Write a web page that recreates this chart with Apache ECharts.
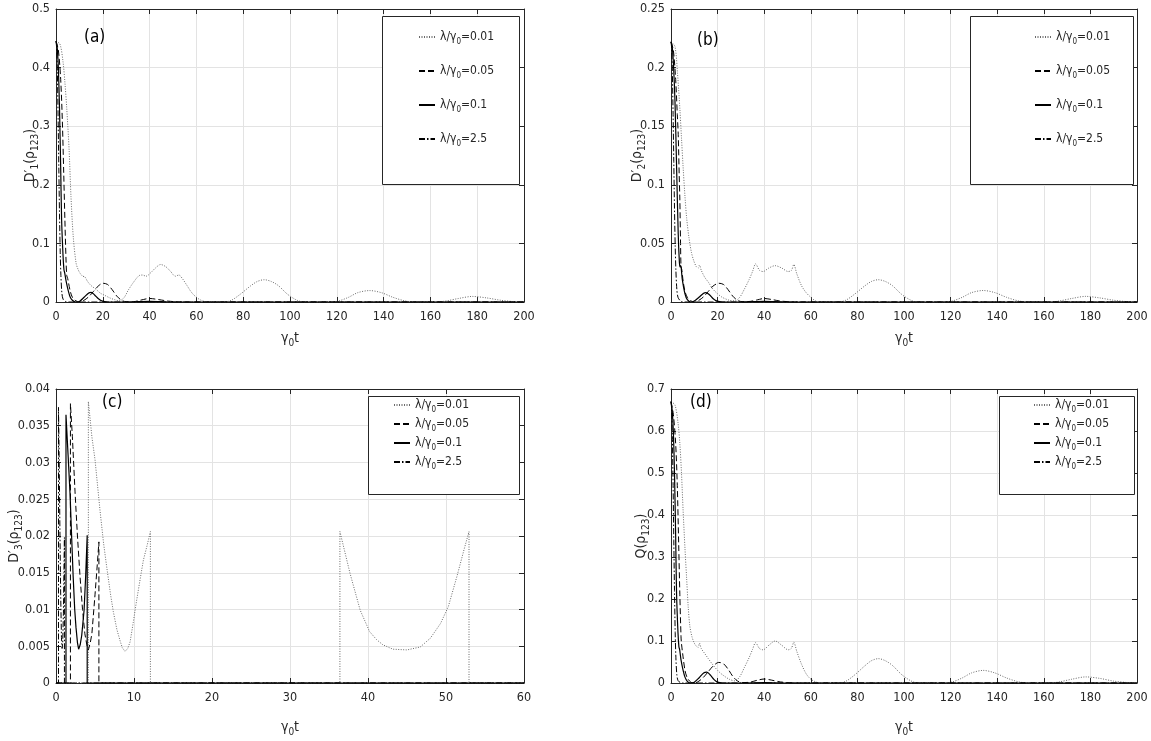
<!DOCTYPE html>
<html>
<head>
<meta charset="utf-8">
<script src="https://cdn.jsdelivr.net/npm/echarts@6/dist/echarts.min.js"></script>
<style>
html,body{margin:0;padding:0;background:#fff}
#main{width:1151px;height:741px}
</style>
</head>
<body>
<div id="main"></div>
<script>
// legend values lambda/gamma0
const lambdas = ['0.01', '0.05', '0.1', '2.5'];

// (a) D'1
const a001 = [[0,0.445],[1.7,0.44],[3,0.41],[3.8,0.375],[4.6,0.33],[5.6,0.26],[6.4,0.18],[7.4,0.11],[8.6,0.066],[9.5,0.055],[10.3,0.049],[11.4,0.044],[12.3,0.043],[13.5,0.035],[15,0.028],[17,0.022],[19,0.015],[21,0.011],[23,0.007],[25,0.004],[27,0.002],[29,0.007],[31,0.021],[33,0.033],[35.5,0.045],[37,0.046],[38.5,0.044],[40.5,0.05],[42.5,0.058],[44.7,0.064],[47,0.06],[49,0.052],[51,0.044],[52.5,0.046],[54,0.04],[56,0.028],[58,0.016],[60,0.008],[62,0.003],[64,0.0005],[66,0],[72,0],[75,0.003],[79,0.014],[83,0.027],[86,0.035],[89,0.038],[92,0.035],[95,0.028],[99,0.013],[103,0.003],[106,0],[118,0],[121,0.002],[125,0.008],[129,0.016],[134,0.0195],[139,0.016],[144,0.008],[149,0.002],[153,0],[163,0],[167,0.002],[172,0.006],[178,0.0095],[184,0.007],[190,0.003],[196,0.0005],[200,0]];
const a005 = [[0,0.445],[1,0.43],[2,0.38],[2.7,0.31],[3.3,0.22],[3.8,0.14],[4.3,0.07],[4.6,0.045],[5,0.04],[6,0.02],[7,0.008],[8.5,0.002],[10,0],[12,0.003],[14,0.009],[16,0.018],[18,0.027],[20,0.032],[22,0.03],[24,0.021],[26,0.01],[28,0.003],[30,0.0005],[33,0.0005],[36,0.003],[40,0.006],[44,0.004],[48,0.0015],[52,0.0003],[56,0],[200,0]];
const a01 = [[0,0.445],[0.5,0.435],[1,0.4],[1.5,0.33],[2,0.23],[2.4,0.14],[3,0.08],[3.4,0.055],[3.7,0.05],[4.3,0.036],[5.2,0.02],[6,0.009],[7,0.003],[8.5,0],[10,0.001],[12,0.008],[14,0.0155],[15,0.0165],[16.5,0.012],[18,0.006],[19.5,0.002],[22,0],[30,0],[35,0.0005],[40,0.001],[45,0.0005],[50,0],[200,0]];
const a25 = [[0,0.445],[0.3,0.432],[0.6,0.39],[0.9,0.315],[1.2,0.23],[1.5,0.15],[1.8,0.085],[2.1,0.045],[2.5,0.016],[3,0.005],[4,0.001],[5,0],[200,0]];

// (b) D'2
const b001 = [[0,0.222],[1.7,0.218],[2.8,0.195],[3.8,0.165],[4.5,0.14],[5.2,0.115],[6,0.09],[6.7,0.072],[7.7,0.055],[8.8,0.042],[9.8,0.035],[10.9,0.03],[11.7,0.029],[12.2,0.0315],[13,0.027],[14.5,0.021],[16,0.017],[18,0.011],[20,0.007],[22,0.004],[25,0.0015],[27.5,0.001],[29.5,0.004],[31.5,0.011],[33.5,0.019],[35,0.026],[36.3,0.0325],[38,0.027],[39.5,0.026],[42,0.029],[44.7,0.031],[47.5,0.029],[50.3,0.026],[51.7,0.027],[52.7,0.032],[54,0.024],[56,0.014],[58,0.008],[60,0.004],[62,0.001],[64,0],[72,0],[75,0.0015],[79,0.007],[83,0.0135],[86,0.0175],[89,0.019],[92,0.0175],[95,0.014],[99,0.0065],[103,0.0015],[106,0],[118,0],[121,0.001],[125,0.004],[129,0.008],[134,0.0098],[139,0.008],[144,0.004],[149,0.001],[153,0],[163,0],[167,0.001],[172,0.003],[178,0.0048],[184,0.0035],[190,0.0015],[196,0.0003],[200,0]];
const b005 = [[0,0.222],[1,0.215],[2,0.19],[2.7,0.16],[3.1,0.143],[3.5,0.11],[3.8,0.087],[4.1,0.05],[4.3,0.03],[4.6,0.028],[5.2,0.018],[6,0.009],[7,0.004],[8.5,0.001],[10,0],[12,0.0015],[14,0.0045],[16,0.009],[18,0.0135],[20.5,0.016],[22.5,0.015],[24.5,0.0105],[26.5,0.005],[28.5,0.0015],[30.5,0.0003],[34,0.0005],[37,0.0018],[40,0.003],[43,0.0022],[47,0.0008],[52,0.0001],[56,0],[200,0]];
const b01 = [[0,0.222],[0.5,0.218],[1,0.205],[1.7,0.172],[2.4,0.115],[3.1,0.058],[3.6,0.034],[3.9,0.03],[4.2,0.031],[4.8,0.02],[6,0.007],[7,0.002],[8.5,0],[10,0.0008],[12,0.004],[14,0.0075],[15,0.008],[16.5,0.0062],[18,0.003],[19.5,0.001],[22,0],[30,0],[40,0.0005],[50,0],[200,0]];
const b25 = [[0,0.222],[0.3,0.216],[0.6,0.195],[0.9,0.16],[1.2,0.12],[1.5,0.08],[1.8,0.048],[2.1,0.027],[2.5,0.011],[3,0.004],[4,0.001],[5,0],[200,0]];

// (c) D'3
const c001 = [[0,0],[4.15,0],[4.15,0.0383],[4.6,0.0335],[5,0.0304],[5.64,0.0235],[6.1,0.019],[6.5,0.0158],[7,0.012],[7.35,0.0097],[7.8,0.0073],[8.2,0.0058],[8.5,0.0048],[8.85,0.0043],[9.2,0.0047],[9.5,0.0056],[9.9,0.0082],[10.3,0.011],[10.8,0.0142],[11.2,0.0167],[11.7,0.0188],[12.1,0.0206],[12.1,0],[36.4,0],[36.4,0.0206],[37.7,0.0149],[39,0.0099],[40.2,0.007],[41.1,0.0059],[41.9,0.0052],[43.2,0.0046],[45,0.0045],[46.7,0.0049],[48,0.0061],[49.3,0.0081],[50.3,0.0104],[51.4,0.0145],[52.3,0.0181],[52.95,0.0206],[52.95,0],[60,0]];
const c005 = [[0,0],[1.85,0],[1.85,0.038],[2.1,0.0335],[2.44,0.026],[2.75,0.02],[3.08,0.0145],[3.4,0.01],[3.7,0.0067],[3.95,0.0052],[4.15,0.0045],[4.4,0.0055],[4.6,0.0067],[5,0.012],[5.25,0.0155],[5.5,0.0192],[5.5,0],[60,0]];
const c01 = [[0,0],[1.28,0],[1.28,0.0365],[1.55,0.031],[1.8,0.0258],[2,0.02],[2.2,0.0145],[2.4,0.01],[2.56,0.0076],[2.75,0.0055],[2.9,0.0046],[3.1,0.0052],[3.3,0.0065],[3.6,0.0099],[3.8,0.0145],[4,0.0201],[4,0],[60,0]];
const c25 = [[0,0],[0.32,0],[0.32,0.0375],[0.4,0.031],[0.5,0.021],[0.6,0.012],[0.7,0.0062],[0.78,0.0047],[0.86,0.0055],[0.95,0.0095],[1.02,0.015],[1.08,0.0198],[1.08,0],[60,0]];

// (d) Q
const d001 = [[0,0.67],[1.7,0.662],[3,0.62],[3.8,0.57],[4.5,0.5],[5.2,0.41],[6,0.32],[6.7,0.25],[7.4,0.18],[8.1,0.135],[9,0.11],[10,0.095],[11,0.087],[11.7,0.085],[12.2,0.095],[13,0.082],[14.5,0.07],[16,0.058],[18,0.043],[20,0.03],[22,0.02],[25,0.009],[27.5,0.005],[29.5,0.015],[31.5,0.037],[33.5,0.06],[35,0.08],[36.3,0.096],[38,0.082],[39.5,0.079],[42,0.09],[44.7,0.1],[47.5,0.09],[50.3,0.079],[51.7,0.083],[52.7,0.097],[54,0.075],[56,0.045],[58,0.022],[60,0.009],[62,0.003],[64,0],[72,0],[75,0.004],[79,0.02],[83,0.04],[86,0.053],[89,0.058],[92,0.053],[95,0.042],[99,0.02],[103,0.005],[106,0],[118,0],[121,0.003],[125,0.012],[129,0.024],[134,0.03],[139,0.024],[144,0.012],[149,0.003],[153,0],[163,0],[167,0.003],[172,0.009],[178,0.0145],[184,0.011],[190,0.0045],[196,0.001],[200,0]];
const d005 = [[0,0.67],[1,0.64],[2,0.57],[2.7,0.47],[3.3,0.33],[3.8,0.21],[4.3,0.11],[4.5,0.094],[5,0.07],[6,0.03],[7,0.012],[8.5,0.002],[10,0],[12,0.0045],[14,0.014],[16,0.027],[18,0.04],[20.5,0.049],[22.5,0.046],[24.5,0.033],[26.5,0.016],[28.5,0.005],[30.5,0.001],[34,0.002],[37,0.0065],[40,0.0095],[43,0.007],[47,0.0025],[52,0.0003],[56,0],[200,0]];
const d01 = [[0,0.67],[0.5,0.65],[1,0.6],[1.5,0.5],[2,0.35],[2.4,0.21],[3,0.12],[3.4,0.086],[3.7,0.08],[4.3,0.055],[5.2,0.03],[6,0.014],[7,0.004],[8.5,0],[10,0.002],[12,0.012],[14,0.024],[15.4,0.026],[17,0.018],[18.5,0.008],[20,0.002],[22,0],[30,0],[40,0.001],[50,0],[200,0]];
const d25 = [[0,0.67],[0.3,0.65],[0.6,0.58],[0.9,0.47],[1.2,0.34],[1.5,0.22],[1.8,0.12],[2.1,0.06],[2.5,0.02],[3,0.006],[4,0.001],[5,0],[200,0]];

const FONT = "'Liberation Sans Narrow','DejaVu Sans Condensed','Liberation Sans',sans-serif";
const AX = '#262626';

const rich = {
    m: {fontSize: 14, fontFamily: FONT, color: AX, lineHeight: 20, verticalAlign: 'middle'},
    s: {fontSize: 10, fontFamily: FONT, color: AX, lineHeight: 20, verticalAlign: 'bottom'}
};
const legendRich = {
    m: {fontSize: 12, fontFamily: FONT, color: AX, lineHeight: 18, verticalAlign: 'middle'},
    s: {fontSize: 8, fontFamily: FONT, color: AX, lineHeight: 18, verticalAlign: 'bottom'}
};

// line style per lambda
const lineStyles = [
    {color: '#6a6a6a', width: 1, type: [1, 1.5]},
    {color: '#000', width: 1, type: [6, 3]},
    {color: '#000', width: 1.2, type: 'solid'},
    {color: '#000', width: 1, type: [6, 2, 1.5, 2]}
];

const panels = [
    {tag: '(a)', data: [a001, a005, a01, a25], grid: {left: 56, top: 9, width: 468, height: 293},
     xMax: 200, xInt: 20, yMax: 0.5, yInt: 0.1, yName: '{m|D′}{s|1}{m|(ρ}{s|123}{m|)}', yGap: 16, xGap: 26,
     box: [382, 16, 137, 168], lg: {left: 382, top: 16, padding: [15, 0, 15, 36], itemGap: 19}, tagPos: [84, 29], smooth: 0.3},
    {tag: '(b)', data: [b001, b005, b01, b25], grid: {left: 671, top: 9, width: 466, height: 293},
     xMax: 200, xInt: 20, yMax: 0.25, yInt: 0.05, yName: '{m|D′}{s|2}{m|(ρ}{s|123}{m|)}', yGap: 24, xGap: 26,
     box: [970, 16, 163, 168], lg: {left: 970, top: 16, padding: [15, 0, 15, 64], itemGap: 19}, tagPos: [697, 32], smooth: 0.3},
    {tag: '(c)', data: [c001, c005, c01, c25], grid: {left: 56, top: 389, width: 468, height: 294},
     xMax: 60, xInt: 10, yMax: 0.04, yInt: 0.005, yName: '{m|D′}{s|3}{m|(ρ}{s|123}{m|)}', yGap: 32, xGap: 34,
     box: [368, 396, 151, 98], lg: {left: 368, top: 396, padding: [3, 0, 3, 25], itemGap: 4}, tagPos: [102, 394], smooth: false},
    {tag: '(d)', data: [d001, d005, d01, d25], grid: {left: 671, top: 389, width: 466, height: 294},
     xMax: 200, xInt: 20, yMax: 0.7, yInt: 0.1, yName: '{m|Q(ρ}{s|123}{m|)}', yGap: 20, xGap: 34,
     box: [999, 396, 135, 98], lg: {left: 999, top: 396, padding: [3, 0, 3, 34], itemGap: 4}, tagPos: [690, 394], smooth: 0.3}
];

const names = lambdas.map(v => 'λ/γ0=' + v);

function axisBase(gi, max, interval) {
    return {
        gridIndex: gi, type: 'value', min: 0, max: max, interval: interval,
        axisLine: {show: true, onZero: false, lineStyle: {color: AX, width: 1}},
        axisTick: {show: true, inside: true, length: 5, lineStyle: {color: AX}},
        axisLabel: {color: AX, fontSize: 12.5, fontFamily: FONT},
        splitLine: {show: false}
    };
}

const xAxis = [], yAxis = [], grid = [], series = [], legend = [], graphic = [];
panels.forEach(function (p, i) {
    grid.push(Object.assign({outerBoundsMode: 'none', containLabel: false}, p.grid));
    let xb = axisBase(i, p.xMax, p.xInt);
    xb.position = 'bottom';
    xb.axisLabel.margin = 8;
    xb.splitLine = {show: true, lineStyle: {color: '#e3e3e3'}};
    xb.name = '{m|γ}{s|0}{m|t}';
    xb.nameLocation = 'middle';
    xb.nameGap = p.xGap;
    xb.nameMoveOverlap = false;
    xb.nameTextStyle = {rich: rich};
    let xt = axisBase(i, p.xMax, p.xInt);
    xt.position = 'top';
    xt.axisLabel = {show: false};
    xAxis.push(xb, xt);

    let yl = axisBase(i, p.yMax, p.yInt);
    yl.position = 'left';
    yl.axisLabel.margin = 6;
    yl.splitLine = {show: true, lineStyle: {color: '#e3e3e3'}};
    yl.name = p.yName;
    yl.nameLocation = 'middle';
    yl.nameRotate = 90;
    yl.nameGap = p.yGap;
    yl.nameMoveOverlap = false;
    yl.nameTextStyle = {rich: rich};
    let yr = axisBase(i, p.yMax, p.yInt);
    yr.position = 'right';
    yr.axisLabel = {show: false};
    yAxis.push(yl, yr);

    p.data.forEach(function (d, k) {
        series.push({
            name: names[k], type: 'line', xAxisIndex: i * 2, yAxisIndex: i * 2,
            data: d, symbol: 'none', showSymbol: false, smooth: p.smooth,
            lineStyle: lineStyles[k], itemStyle: {color: lineStyles[k].color},
            animation: false, z: 3 + k
        });
    });

    legend.push({
        data: names, orient: 'vertical', left: p.lg.left, top: p.lg.top,
        padding: p.lg.padding, itemGap: p.lg.itemGap, itemWidth: 16, itemHeight: 10, itemTextGap: 3,
        selectedMode: false, z: 60,
        itemStyle: {color: 'rgba(0,0,0,0)', borderColor: 'rgba(0,0,0,0)', borderWidth: 0, opacity: 0},
        formatter: function (n) { return '{m|λ/γ}{s|0}{m|=' + n.split('=')[1] + '}'; },
        textStyle: {rich: legendRich}
    });

    graphic.push({
        type: 'rect', z: 50,
        shape: {x: p.box[0] + 0.5, y: p.box[1] + 0.5, width: p.box[2], height: p.box[3]},
        style: {fill: '#fff', stroke: AX, lineWidth: 1}
    });
    graphic.push({
        type: 'text', z: 60, x: p.tagPos[0], y: p.tagPos[1],
        style: {text: p.tag, font: "17px 'Liberation Sans Narrow','DejaVu Sans Condensed',sans-serif", fill: '#000'}
    });
});

const myChart = echarts.init(document.getElementById('main'));
myChart.setOption({
    animation: false,
    backgroundColor: '#fff',
    grid: grid,
    xAxis: xAxis,
    yAxis: yAxis,
    legend: legend,
    graphic: graphic,
    series: series
});
</script>
</body>
</html>
